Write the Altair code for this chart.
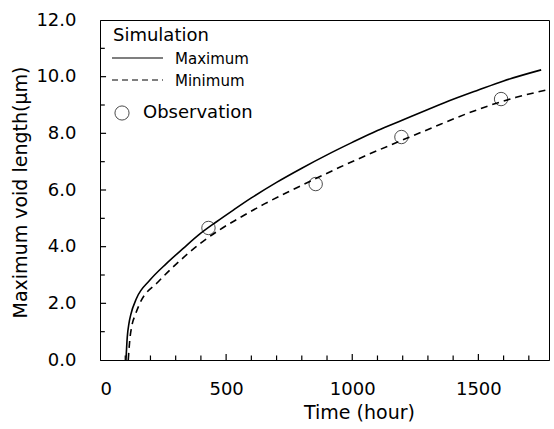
import altair as alt
import pandas as pd

# Simulation - maximum (solid)
max_t = [103, 108, 115, 122, 145, 198, 264, 330, 396, 462, 530, 600, 700, 800, 900, 1000, 1100, 1200, 1300, 1400, 1500, 1600, 1749]
max_v = [0.0, 0.8, 1.3, 1.6, 2.18, 2.82, 3.41, 3.94, 4.45, 4.88, 5.3, 5.72, 6.27, 6.77, 7.24, 7.68, 8.1, 8.47, 8.84, 9.2, 9.53, 9.85, 10.24]
# Simulation - minimum (dashed)
min_t = [112, 118, 126, 140, 158, 231, 304, 396, 475, 550, 650, 750, 850, 950, 1050, 1150, 1250, 1350, 1450, 1550, 1650, 1780]
min_v = [0.0, 0.7, 1.2, 1.6, 2.0, 2.76, 3.4, 4.1, 4.6, 5.0, 5.5, 5.95, 6.38, 6.8, 7.2, 7.58, 7.95, 8.32, 8.68, 9.0, 9.27, 9.55]
# Observation
obs_t = [430, 855, 1195, 1590]
obs_v = [4.66, 6.21, 7.87, 9.21]

x_ticks_major = [500, 1000, 1500]
x_ticks_minor = [100, 200, 300, 400, 600, 700, 800, 900, 1100, 1200, 1300, 1400, 1600, 1700]
y_ticks_major = [2, 4, 6, 8, 10]
y_ticks_minor = [1, 3, 5, 7, 9, 11]

FONT = "DejaVu Sans"
W, H = 449, 340

xs = alt.Scale(domain=[0, 1780], nice=False)
ys = alt.Scale(domain=[0, 12], nice=False)

df_max = pd.DataFrame({"t": max_t, "v": max_v})
df_min = pd.DataFrame({"t": min_t, "v": min_v})
df_obs = pd.DataFrame({"t": obs_t, "v": obs_v})

xaxis = alt.Axis(values=[0, 500, 1000, 1500], format="d", grid=False, ticks=False, tickSize=0,
                 labelPadding=20, labelFontSize=18, labelFont=FONT, labelColor="black",
                 title="Time  (hour)", titleFont=FONT, titleFontSize=19, titleFontWeight="normal",
                 titleColor="black", titleX=259, titleY=52, titleBaseline="middle", titleAlign="center",
                 domainColor="black", domainWidth=1)
yaxis = alt.Axis(values=[0, 2, 4, 6, 8, 10, 12], format=".1f", grid=False, ticks=False, tickSize=0,
                 labelPadding=24, labelFontSize=18, labelFont=FONT, labelColor="black",
                 title="Maximum  void length(\u03bcm)", titleFont=FONT, titleFontSize=19,
                 titleFontWeight="normal", titleColor="black", titleAngle=270,
                 titleX=-80, titleY=172, titleBaseline="middle", titleAlign="center",
                 domainColor="black", domainWidth=1)

line_max = alt.Chart(df_max).mark_line(color="black", strokeWidth=1.6, interpolate="monotone").encode(
    x=alt.X("t:Q", scale=xs, axis=xaxis),
    y=alt.Y("v:Q", scale=ys, axis=yaxis),
)
line_min = alt.Chart(df_min).mark_line(color="black", strokeWidth=1.6, strokeDash=[7, 5],
                                       interpolate="monotone").encode(
    x=alt.X("t:Q", scale=xs),
    y=alt.Y("v:Q", scale=ys),
)
pts = alt.Chart(df_obs).mark_point(shape="circle", size=180, filled=False, color="black",
                                   strokeWidth=1).encode(
    x=alt.X("t:Q", scale=xs),
    y=alt.Y("v:Q", scale=ys),
)

# inward ticks (lengths expressed in axis units: 6px ~ 0.21 on y, ~24 on x)
xt_maj = alt.Chart(pd.DataFrame({"t": x_ticks_major})).mark_rule(color="black", strokeWidth=1.2).encode(
    x=alt.X("t:Q", scale=xs), y=alt.Y(datum=0, scale=ys), y2=alt.datum(0.21))
xt_min = alt.Chart(pd.DataFrame({"t": x_ticks_minor})).mark_rule(color="black", strokeWidth=1.2).encode(
    x=alt.X("t:Q", scale=xs), y=alt.Y(datum=0, scale=ys), y2=alt.datum(0.16))
yt_maj = alt.Chart(pd.DataFrame({"v": y_ticks_major})).mark_rule(color="black", strokeWidth=1.2).encode(
    y=alt.Y("v:Q", scale=ys), x=alt.X(datum=0, scale=xs), x2=alt.datum(24))
yt_min = alt.Chart(pd.DataFrame({"v": y_ticks_minor})).mark_rule(color="black", strokeWidth=1.2).encode(
    y=alt.Y("v:Q", scale=ys), x=alt.X(datum=0, scale=xs), x2=alt.datum(19))

# legend
leg_title = alt.Chart(pd.DataFrame({"s": ["Simulation"]})).mark_text(
    font=FONT, fontSize=18, align="left", baseline="middle", color="black").encode(
    text="s:N", x=alt.value(13), y=alt.value(16))
leg_max_line = alt.Chart(pd.DataFrame({"s": ["Maximum"]})).mark_rule(color="black", strokeWidth=1.2).encode(
    x=alt.value(12), x2=alt.value(63), y=alt.value(38))
leg_max_text = alt.Chart(pd.DataFrame({"s": ["Maximum"]})).mark_text(
    font=FONT, fontSize=15, align="left", baseline="middle", color="black").encode(
    text="s:N", x=alt.value(75), y=alt.value(39))
leg_min_line = alt.Chart(pd.DataFrame({"s": ["Minimum"]})).mark_rule(color="black", strokeWidth=1.2,
                                                                      strokeDash=[6, 4]).encode(
    x=alt.value(12), x2=alt.value(63), y=alt.value(60))
leg_min_text = alt.Chart(pd.DataFrame({"s": ["Minimum"]})).mark_text(
    font=FONT, fontSize=15, align="left", baseline="middle", color="black").encode(
    text="s:N", x=alt.value(75), y=alt.value(61))
leg_circ = alt.Chart(pd.DataFrame({"s": ["Observation"]})).mark_point(
    shape="circle", size=200, filled=False, color="black", strokeWidth=1).encode(
    x=alt.value(22), y=alt.value(93))
leg_obs_text = alt.Chart(pd.DataFrame({"s": ["Observation"]})).mark_text(
    font=FONT, fontSize=18, align="left", baseline="middle", color="black").encode(
    text="s:N", x=alt.value(43), y=alt.value(93))

chart = alt.layer(
    line_max, line_min, pts, xt_maj, xt_min, yt_maj, yt_min,
    leg_title, leg_max_line, leg_max_text, leg_min_line, leg_min_text, leg_circ, leg_obs_text,
).properties(
    width=W, height=H,
    autosize=alt.AutoSizeParams(type="none"),
    padding={"left": 100, "top": 20, "right": 5, "bottom": 69},
    background="white",
).configure_view(stroke="black", strokeWidth=1)

chart.save("out.html", embed_options={"renderer": "svg", "actions": False})
